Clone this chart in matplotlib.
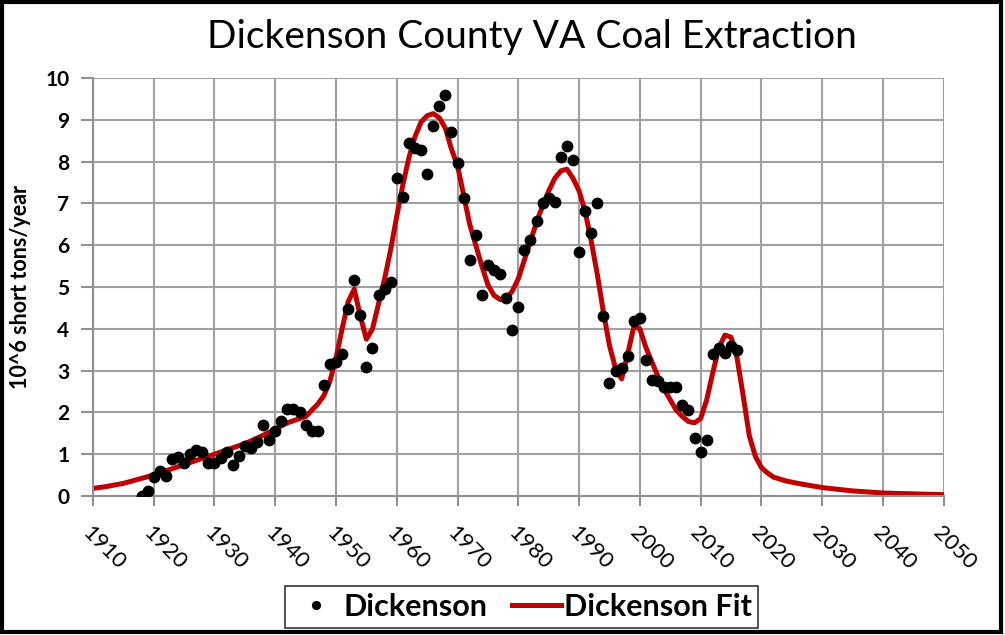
import matplotlib.pyplot as plt
from matplotlib.patches import Rectangle

# Annual extraction (10^6 short tons/year)
years = list(range(1918, 2017))
tons = [0.0, 0.12, 0.45, 0.6, 0.47, 0.88, 0.92, 0.8, 1.0, 1.1,
        1.05, 0.8, 0.8, 0.9, 1.05, 0.75, 0.95, 1.2, 1.15, 1.3,
        1.7, 1.35, 1.55, 1.8, 2.07, 2.07, 2.0, 1.7, 1.55, 1.55,
        2.65, 3.15, 3.2, 3.4, 4.47, 5.17, 4.34, 3.08, 3.55, 4.8,
        4.95, 5.13, 7.6, 7.15, 8.45, 8.33, 8.29, 7.71, 8.86, 9.34,
        9.6, 8.71, 7.98, 7.14, 5.65, 6.25, 4.81, 5.53, 5.41, 5.31,
        4.74, 3.98, 4.52, 5.88, 6.12, 6.57, 7.01, 7.13, 7.03, 8.1,
        8.38, 8.03, 5.83, 6.81, 6.29, 7.01, 4.31, 2.7, 2.98, 3.06,
        3.34, 4.19, 4.26, 3.26, 2.78, 2.74, 2.6, 2.6, 2.6, 2.18,
        2.06, 1.38, 1.06, 1.34, 3.4, 3.54, 3.43, 3.59, 3.5]

# Fitted curve
fit_years = [1910, 1912, 1915, 1918, 1920, 1922, 1925, 1928, 1930, 1932,
             1935, 1938, 1940, 1942, 1944] + list(range(1945, 2023)) + \
            [2024, 2026, 2028, 2030, 2035, 2040, 2045, 2050]
fit_tons = [0.18, 0.22, 0.3, 0.42, 0.5, 0.6, 0.75, 0.9, 1.0, 1.1,
            1.25, 1.45, 1.6, 1.75, 1.85,
            1.9, 2.05, 2.2, 2.4, 2.75, 3.3, 4.0, 4.65, 4.95, 4.3,
            3.75, 4.0, 4.6, 5.2, 5.9, 6.7, 7.45, 8.1, 8.6, 8.95,
            9.1, 9.15, 9.05, 8.8, 8.3, 7.9, 7.2, 6.5, 6.0, 5.5,
            5.05, 4.8, 4.7, 4.72, 4.9, 5.2, 5.65, 6.1, 6.55, 6.95,
            7.3, 7.6, 7.78, 7.82, 7.6, 7.3, 6.8, 6.1, 5.3, 4.4,
            3.6, 3.05, 2.8, 3.4, 4.05, 4.0, 3.55, 3.2, 2.85, 2.55,
            2.3, 2.05, 1.9, 1.78, 1.75, 1.85, 2.3, 2.95, 3.55, 3.85,
            3.8, 3.3, 2.4, 1.45, 0.95, 0.68, 0.55, 0.45,
            0.36, 0.3, 0.25, 0.2, 0.12, 0.07, 0.05, 0.03]

plt.rcParams['font.family'] = ['Lato', 'DejaVu Sans']

fig = plt.figure(figsize=(10.05, 6.35), dpi=100)
ax = fig.add_axes([0.0925, 0.219, 0.8465, 0.658])

ax.plot(years, tons, 'o', color='black', markersize=7.5, label='Dickenson', zorder=3)
ax.plot(fit_years, fit_tons, color='#C00000', linewidth=3.6, label='Dickenson Fit',
        zorder=2, solid_joinstyle='round')

ax.set_xlim(1910, 2050)
ax.set_ylim(0, 10)
ax.set_xticks(range(1910, 2051, 10))
ax.set_yticks(range(0, 11))
ax.grid(True, color='#a0a0a0', linewidth=1.5)
ax.set_axisbelow(True)
for s in ['top', 'right']:
    ax.spines[s].set_visible(False)
for s in ['left', 'bottom']:
    ax.spines[s].set_color('#909090')
    ax.spines[s].set_linewidth(1.5)
ax.tick_params(axis='y', colors='#909090', width=1.5, length=9, pad=8,
               labelcolor='black', labelsize=15)
ax.tick_params(axis='x', colors='#909090', width=1.5, length=7, pad=12,
               labelcolor='black', labelsize=16)
for lab in ax.get_yticklabels():
    lab.set_fontweight('bold')
for lab in ax.get_xticklabels():
    lab.set_rotation(-45)
    lab.set_ha('left')
    lab.set_va('top')
    lab.set_rotation_mode('anchor')

ax.set_ylabel('10^6 short tons/year', fontsize=15.5, fontweight='bold', labelpad=10)
fig.text(0.529, 0.942, 'Dickenson County VA Coal Extraction', fontsize=28,
         ha='center', va='center')

leg = fig.legend(loc='center', bbox_to_anchor=(0.519, 0.044), ncol=2,
                 frameon=True, fancybox=False, handlelength=1.6,
                 columnspacing=0.8, handletextpad=0.1, borderpad=0.22,
                 markerscale=0.75, prop={'weight': 'bold', 'size': 22})
leg.get_frame().set_edgecolor('black')
leg.get_frame().set_linewidth(1.2)

fig.patches.append(Rectangle((0.002, 0.004), 0.994, 0.993, transform=fig.transFigure,
                             fill=False, edgecolor='black', linewidth=3))

fig.savefig('out.png', dpi=100)
